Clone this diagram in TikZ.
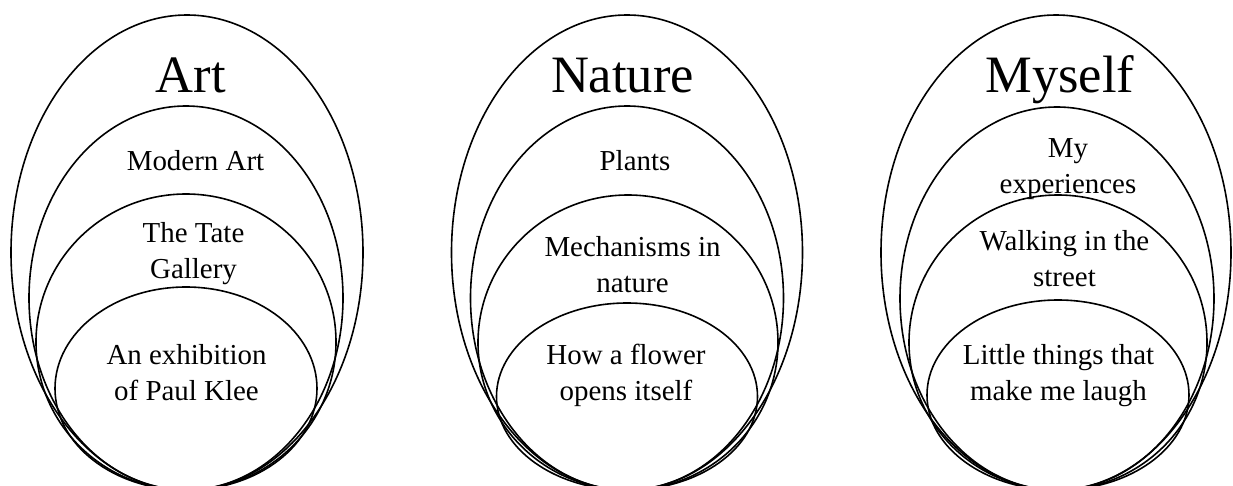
\documentclass[tikz,border=0pt]{standalone}
\usepackage{fontspec}
\setmainfont{Liberation Serif}
\begin{document}
\begin{tikzpicture}[x=0.75pt,y=-0.75pt,
  ring/.style={draw=black,line width=1.2pt},
  title/.style={font=\fontsize{39.4pt}{44pt}\selectfont,anchor=base,inner sep=0pt},
  label/.style={font=\fontsize{21.7pt}{27pt}\selectfont,anchor=base,align=center,inner sep=0pt}]
\useasboundingbox (0,0) rectangle (1233,486);
\begin{scope}
\clip (0,0) rectangle (1233,486);
% Art
\draw[ring] (187,{(15+490)/2}) ellipse [x radius=176, y radius={(490-15)/2}];
\draw[ring] (186,{(106+490)/2}) ellipse [x radius=157, y radius={(490-106)/2}];
\draw[ring] (186,{(194+490)/2}) ellipse [x radius=150, y radius={(490-194)/2}];
\draw[ring] (186,{(287+490)/2}) ellipse [x radius=131, y radius={(490-287)/2}];
% Nature
\draw[ring] (627,{(15+490)/2}) ellipse [x radius=175.5, y radius={(490-15)/2}];
\draw[ring] (627,{(106+490)/2}) ellipse [x radius=156.5, y radius={(490-106)/2}];
\draw[ring] (628,{(195+490)/2}) ellipse [x radius=150, y radius={(490-195)/2}];
\draw[ring] (627,{(303+490)/2}) ellipse [x radius=130.5, y radius={(490-303)/2}];
% Myself
\draw[ring] (1056,{(15+490)/2}) ellipse [x radius=175, y radius={(490-15)/2}];
\draw[ring] (1057,{(107+490)/2}) ellipse [x radius=157, y radius={(490-107)/2}];
\draw[ring] (1058,{(195+490)/2}) ellipse [x radius=149, y radius={(490-195)/2}];
\draw[ring] (1058,{(300+490)/2}) ellipse [x radius=131, y radius={(490-300)/2}];
\end{scope}
% texts (base = baseline of last line)
\node[title] (tArt) at (191,92) {Art};
\node[title] (tNature) at (622.5,92) {Nature};
\node[title] (tMyself) at (1060,92) {Myself};
\node[label] (a1) at (195.5,170) {Modern Art};
\node[label] (a2) at (193.5,278) {The Tate\\Gallery};
\node[label] (a3) at (186.5,400) {An exhibition\\of Paul Klee};
\node[label] (n1) at (635,170) {Plants};
\node[label] (n2) at (632.5,292) {Mechanisms in\\nature};
\node[label] (n3) at (626,400) {How a flower\\opens itself};
\node[label] (m1) at (1068,193) {My\\experiences};
\node[label] (m2) at (1064.5,286) {Walking in the\\street};
\node[label] (m3) at (1058.5,400) {Little things that\\make me laugh};
\end{tikzpicture}
\end{document}
